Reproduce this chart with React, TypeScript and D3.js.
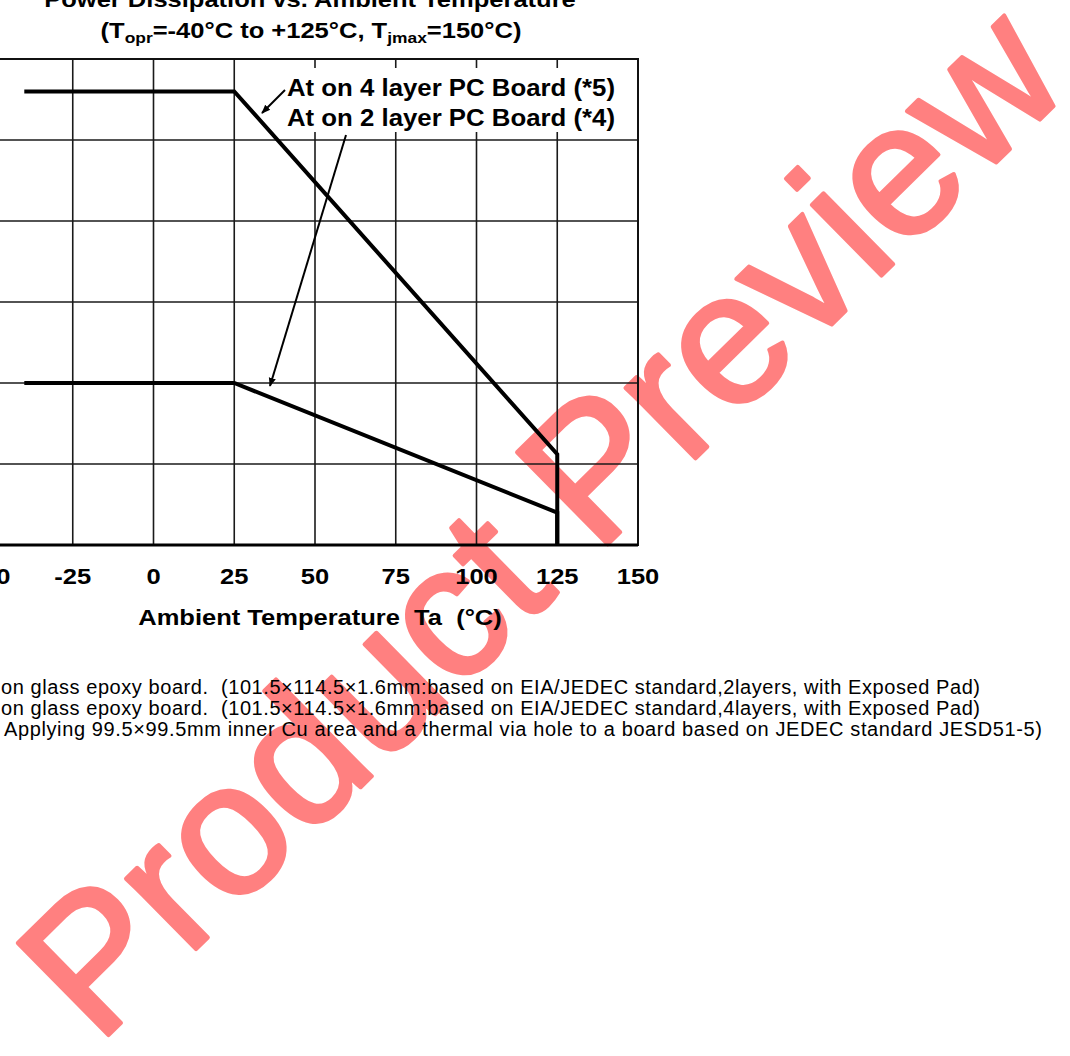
import React from "react";
import * as d3 from "d3";

const xTicks = [-50, -25, 0, 25, 50, 75, 100, 125, 150];
const yTicks = [0, 1, 2, 3, 4, 5, 6];

const temps4 = [-40, 25, 125, 125];
const pd4 = [5.6, 5.6, 1.12, 0];
const temps2 = [-40, 25, 125, 125];
const pd2 = [2.0, 2.0, 0.4, 0];

const titleLine1 = "Power Dissipation vs. Ambient Temperature";
const label4 = "At on 4 layer PC Board (*5)";
const label2 = "At on 2 layer PC Board (*4)";
const xTitle = "Ambient Temperature  Ta  (°C)";
const notes = [
  "on glass epoxy board.  (101.5×114.5×1.6mm:based on EIA/JEDEC standard,2layers, with Exposed Pad)",
  "on glass epoxy board.  (101.5×114.5×1.6mm:based on EIA/JEDEC standard,4layers, with Exposed Pad)",
  "Applying 99.5×99.5mm inner Cu area and a thermal via hole to a board based on JEDEC standard JESD51-5)",
];
const watermark = "Product Preview";

const FONT = "Arial, 'Liberation Sans', Helvetica, sans-serif";
const SX = 1.16;
const pre = { whiteSpace: "pre" as const };

export default function App() {
  const W = 1070;
  const H = 1056;
  const x = d3.scaleLinear().domain([-50, 150]).range([-8, 638]);
  const y = d3.scaleLinear().domain([0, 6]).range([545, 59]);
  const line = d3
    .line<[number, number]>()
    .x((d) => x(d[0]))
    .y((d) => y(d[1]));
  const d4 = line(temps4.map((t, i) => [t, pd4[i]] as [number, number])) || "";
  const d2 = line(temps2.map((t, i) => [t, pd2[i]] as [number, number])) || "";

  const x0 = x(-50);
  const x1 = x(150);
  const yTop = y(6);
  const yBot = y(0);

  return (
    <svg
      width={W}
      height={H}
      viewBox={`0 0 ${W} ${H}`}
      style={{ position: "absolute", left: 0, top: 0, background: "#fff" }}
      fontFamily={FONT}
    >
      <defs>
        <marker
          id="arr"
          viewBox="0 0 10 10"
          refX="9"
          refY="5"
          markerWidth="9"
          markerHeight="9"
          markerUnits="userSpaceOnUse"
          orient="auto"
        >
          <path d="M0,1 L10,5 L0,9 z" fill="#000" />
        </marker>
      </defs>
      <rect x={0} y={0} width={W} height={H} fill="#fff" />

      {/* watermark (behind content) */}
      <text
        x={540}
        y={520}
        fontSize={188}
        fill="#ff8080"
        textAnchor="middle"
        dominantBaseline="central"
        transform="rotate(-44.5 540 520)"
        stroke="#ff8080"
        strokeWidth={4}
        strokeLinejoin="round"
      >
        {watermark}
      </text>

      {/* grid */}
      {yTicks.slice(1, -1).map((v) => (
        <line key={"h" + v} x1={x0} x2={x1} y1={y(v)} y2={y(v)} stroke="#1a1a1a" strokeWidth={1.6} />
      ))}
      {xTicks.slice(1, -1).map((v) => (
        <line key={"v" + v} x1={x(v)} x2={x(v)} y1={yTop} y2={yBot} stroke="#1a1a1a" strokeWidth={1.6} />
      ))}
      <rect x={x0} y={yTop} width={x1 - x0} height={yBot - yTop} fill="none" stroke="#111" strokeWidth={2} />
      <line x1={x0} x2={x1} y1={yBot} y2={yBot} stroke="#000" strokeWidth={3} />

      {/* annotation box */}
      <rect x={278} y={68} width={352} height={64} fill="#fff" />

      {/* data */}
      <path d={d2} fill="none" stroke="#000" strokeWidth={4} strokeLinejoin="miter" />
      <path d={d4} fill="none" stroke="#000" strokeWidth={4} strokeLinejoin="miter" />

      {/* annotations */}
      <text x={287} y={96} fontSize={23} fontWeight="bold" textLength={328} lengthAdjust="spacingAndGlyphs">
        {label4}
      </text>
      <text x={287} y={126} fontSize={23} fontWeight="bold" textLength={328} lengthAdjust="spacingAndGlyphs">
        {label2}
      </text>
      <line x1={285} y1={90} x2={262} y2={113} stroke="#000" strokeWidth={2} markerEnd="url(#arr)" />
      <line x1={346} y1={135} x2={270} y2={386} stroke="#000" strokeWidth={2} markerEnd="url(#arr)" />

      {/* title */}
      <text transform={`translate(310,7) scale(${SX},1)`} fontSize={22} fontWeight="bold" textAnchor="middle">
        {titleLine1}
      </text>
      <text transform={`translate(311,38) scale(${SX},1)`} fontSize={22} fontWeight="bold" textAnchor="middle">
        (T<tspan fontSize={15} dy={5}>opr</tspan>
        <tspan dy={-5}>=-40°C to +125°C, T</tspan>
        <tspan fontSize={15} dy={5}>jmax</tspan>
        <tspan dy={-5}>=150°C)</tspan>
      </text>

      {/* x tick labels */}
      {xTicks.map((v) => (
        <text
          key={"xt" + v}
          transform={`translate(${x(v)},584) scale(${SX},1)`}
          fontSize={22}
          fontWeight="bold"
          textAnchor="middle"
        >
          {v}
        </text>
      ))}
      <text
        transform={`translate(320,625) scale(${SX},1)`}
        fontSize={22}
        fontWeight="bold"
        textAnchor="middle"
        xmlSpace="preserve"
        style={pre}
      >
        {xTitle}
      </text>

      {/* footnotes */}
      <text x={1} y={694} fontSize={20} textLength={979} lengthAdjust="spacing" xmlSpace="preserve" style={pre}>
        {notes[0]}
      </text>
      <text x={1} y={715} fontSize={20} textLength={979} lengthAdjust="spacing" xmlSpace="preserve" style={pre}>
        {notes[1]}
      </text>
      <text x={4} y={736} fontSize={20} textLength={1038} lengthAdjust="spacing" xmlSpace="preserve" style={pre}>
        {notes[2]}
      </text>
    </svg>
  );
}
